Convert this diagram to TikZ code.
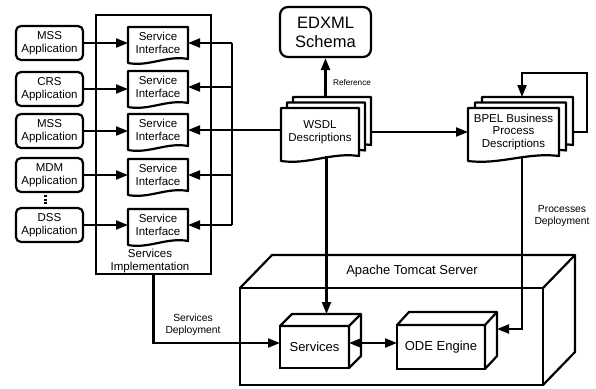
\documentclass[tikz,border=0pt]{standalone}
\usepackage{fontspec}
\setmainfont{Liberation Sans}
\usetikzlibrary{arrows.meta,calc}
\pgfdeclarelayer{background}
\pgfsetlayers{background,main}
\tikzset{
  line/.style={line width=2.2pt},
  tip/.tip={Triangle[length=12pt,width=9pt]},
  conn/.style={line width=2.2pt,-tip},
  dconn/.style={line width=2.2pt,tip-tip},
  app/.style={draw,line width=2.2pt,rounded corners=5pt,minimum width=67pt,minimum height=34pt,
    align=center,inner sep=0pt,font=\fontsize{11.5}{13}\selectfont},
  sidoc/.style={minimum width=60pt,minimum height=32pt,outer sep=0pt,inner sep=0pt,
    align=center,font=\fontsize{11.5}{13}\selectfont},
  wdoc/.style={minimum width=78pt,minimum height=48pt,outer sep=0pt,inner sep=0pt,
    align=center,font=\fontsize{11.5}{13}\selectfont},
  bdoc/.style={minimum width=91pt,minimum height=48pt,outer sep=0pt,inner sep=0pt,
    align=center,font=\fontsize{11.5}{12.5}\selectfont},
  cube/.style={draw,line width=2.2pt,fill=white,outer sep=0pt,inner sep=0pt,
    font=\fontsize{13}{15}\selectfont},
  lbl/.style={align=center,font=\fontsize{10.3}{12}\selectfont},
}
% document outline: node, width, left drop
\newcommand\docoutline[3]{%
  \begin{pgfonlayer}{background}
  \draw[line width=2.2pt,line join=round,fill=white]
    (#1.north west) -- (#1.north east) -- (#1.south east)
    .. controls ($(#1.south east)+({-0.35*#2},-4)$) and ($(#1.south west)+({0.35*#2},{#3+4})$)
    .. ($(#1.south west)+(0,#3)$) -- cycle;
  \end{pgfonlayer}}
% cube faces: node, dx, dy
\newcommand\cubefaces[3]{%
  \draw[line width=2.2pt,line join=round,fill=white]
    (#1.north west) -- ++(#2,-#3) -- ($(#1.north east)+(#2,-#3)$)
    -- ($(#1.south east)+(#2,-#3)$) -- (#1.south east) -- (#1.north east) -- cycle;
  \draw[line width=2.2pt] (#1.north east) -- ++(#2,-#3);}
\begin{document}
\begin{tikzpicture}[x=1pt,y=-1pt]
\useasboundingbox (0,0) rectangle (596,388);
\begin{pgfonlayer}{background}
\fill[white] (0,0) rectangle (596,388);
\end{pgfonlayer}

% applications
\node[app] (a1) at (49.5,43) {MSS\\Application};
\node[app] (a2) at (49.5,89) {CRS\\Application};
\node[app] (a3) at (49.5,131) {MSS\\Application};
\node[app] (a4) at (49.5,175) {MDM\\Application};
\node[app] (a5) at (49.5,225) {DSS\\Application};
\foreach \yy in {195,198.5,202} \fill (44,\yy) rectangle (46.5,\yy+2);

% services implementation
\node[draw,line width=2.2pt,minimum width=115pt,minimum height=259pt,inner sep=0pt] (impl) at (153.5,144.5) {};
\node[lbl,font=\fontsize{11.5}{12.5}\selectfont] (impllbl) at (150,261) {Services\\Implementation};

% service interfaces
\foreach \n/\yy in {s1/43,s2/87,s3/130,s4/175,s5/225}{
  \node[sidoc] (\n) at (158,\yy) {Service\\Interface};
  \docoutline{\n}{60}{4}
}

% EDXML
\node[draw,line width=2.2pt,rounded corners=8pt,minimum width=91pt,minimum height=50pt,
  align=center,font=\fontsize{16.5}{19}\selectfont] (edxml) at (325.5,32) {EDXML\\Schema};

% WSDL stack
\node[wdoc] (wsdlb) at (332,121) {};
\docoutline{wsdlb}{78}{5}
\node[wdoc] (wsdlm) at (326,126.5) {};
\docoutline{wsdlm}{78}{5}
\node[wdoc] (wsdl) at (320,132) {WSDL\\Descriptions};
\docoutline{wsdl}{78}{5}

% BPEL stack
\node[bdoc] (bpelb) at (527.5,121) {};
\docoutline{bpelb}{91}{5}
\node[bdoc] (bpelm) at (520.5,126.5) {};
\docoutline{bpelm}{91}{5}
\node[bdoc] (bpel) at (513.5,132) {BPEL Business\\Process\\Descriptions};
\docoutline{bpel}{91}{5}

% Tomcat server
\node[draw,line width=2.2pt,minimum width=303pt,minimum height=97pt,outer sep=0pt,inner sep=0pt] (tomcat) at (391.5,336.5) {};
\draw[line width=2.2pt,line join=round] (tomcat.north west) -- ++(32,-33) -- ($(tomcat.north east)+(32,-33)$)
  -- ($(tomcat.south east)+(32,-33)$) -- (tomcat.south east);
\draw[line width=2.2pt] (tomcat.north east) -- ++(32,-33);
\node[font=\fontsize{13}{15}\selectfont] (tomcatlbl) at (412,271) {Apache Tomcat Server};

% inner cubes
\node[cube,minimum width=69pt,minimum height=42pt] (svc) at (314.5,347) {Services};
\cubefaces{svc}{12}{12}
\node[cube,minimum width=88pt,minimum height=44pt] (ode) at (441,347) {ODE Engine};
\cubefaces{ode}{12}{13}

\coordinate (svctop) at ($(svc.north)+(12,-12)$);
\coordinate (odein) at ($(ode.east)+(12,-18)$);
\coordinate (bus1) at (232,43);
\coordinate (bus5) at (232,225);
\coordinate (bpx) at (522,0);
\coordinate (loopc) at (587,73);

% connectors
\foreach \i in {1,...,5} \draw[conn] (a\i.east) -- (a\i.east -| s\i.west);
\draw[line] (bus1) -- (bus5);
\foreach \i in {1,2,4,5} \draw[conn] (s\i.east -| bus1) -- (s\i.east);
\draw[conn] (wsdl.west |- s3.east) -- (s3.east);
\draw[conn] (edxml.south |- wsdlb.north) -- (edxml.south);
\node[font=\fontsize{8.2}{10}\selectfont] (reflbl) at (352,83) {Reference};
\draw[conn] (wsdlb.east |- wsdl.center) -- (bpel.west);
\draw[conn] (bpelb.east |- bpel.center) -| (loopc) -| (bpelb.north -| bpx);
\draw[conn] (svctop |- wsdl.south) -- (svctop);
\draw[conn] (bpel.south -| bpx) |- (odein);
\node[lbl] (pdlbl) at (562,216) {Processes\\Deployment};
\draw[conn] (impl.south) |- ($(svc.west)+(0,-4)$);
\node[lbl] (sdlbl) at (193,325) {Services\\Deployment};
\draw[dconn] ($(svc.east)+(0,-4)$) -- ($(ode.west)+(0,-4)$);
\end{tikzpicture}
\end{document}
